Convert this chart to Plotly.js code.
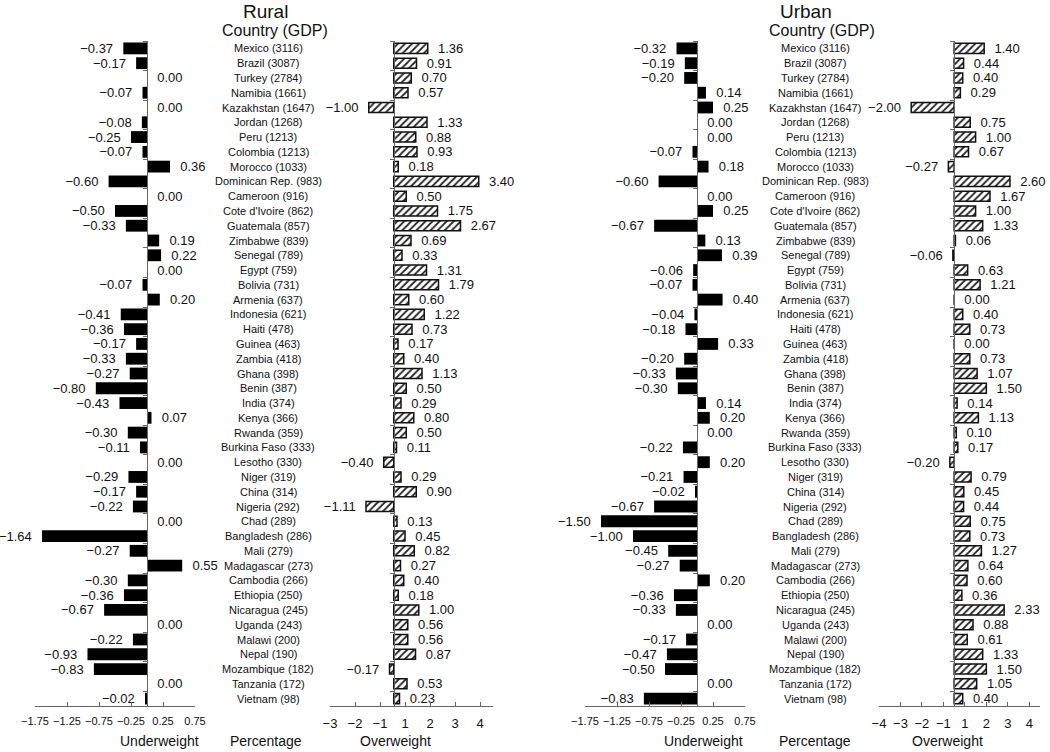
<!DOCTYPE html>
<html>
<head>
<meta charset="utf-8">
<script src="https://cdn.plot.ly/plotly-3.0.1.min.js"></script>
<style>html,body{margin:0;padding:0;background:#fff;}#chart{width:1050px;height:752px;}</style>
</head>
<body>
<div id="chart"></div>
<script>
const countries = ["Mexico (3116)","Brazil (3087)","Turkey (2784)","Namibia (1661)","Kazakhstan (1647)","Jordan (1268)","Peru (1213)","Colombia (1213)","Morocco (1033)","Dominican Rep. (983)","Cameroon (916)","Cote d'Ivoire (862)","Guatemala (857)","Zimbabwe (839)","Senegal (789)","Egypt (759)","Bolivia (731)","Armenia (637)","Indonesia (621)","Haiti (478)","Guinea (463)","Zambia (418)","Ghana (398)","Benin (387)","India (374)","Kenya (366)","Rwanda (359)","Burkina Faso (333)","Lesotho (330)","Niger (319)","China (314)","Nigeria (292)","Chad (289)","Bangladesh (286)","Mali (279)","Madagascar (273)","Cambodia (266)","Ethiopia (250)","Nicaragua (245)","Uganda (243)","Malawi (200)","Nepal (190)","Mozambique (182)","Tanzania (172)","Vietnam (98)"];

const ruralUnderweight = [-0.37,-0.17,0.00,-0.07,0.00,-0.08,-0.25,-0.07,0.36,-0.60,0.00,-0.50,-0.33,0.19,0.22,0.00,-0.07,0.20,-0.41,-0.36,-0.17,-0.33,-0.27,-0.80,-0.43,0.07,-0.30,-0.11,0.00,-0.29,-0.17,-0.22,0.00,-1.64,-0.27,0.55,-0.30,-0.36,-0.67,0.00,-0.22,-0.93,-0.83,0.00,-0.02];
const ruralOverweight = [1.36,0.91,0.70,0.57,-1.00,1.33,0.88,0.93,0.18,3.40,0.50,1.75,2.67,0.69,0.33,1.31,1.79,0.60,1.22,0.73,0.17,0.40,1.13,0.50,0.29,0.80,0.50,0.11,-0.40,0.29,0.90,-1.11,0.13,0.45,0.82,0.27,0.40,0.18,1.00,0.56,0.56,0.87,-0.17,0.53,0.23];
const urbanUnderweight = [-0.32,-0.19,-0.20,0.14,0.25,0.00,0.00,-0.07,0.18,-0.60,0.00,0.25,-0.67,0.13,0.39,-0.06,-0.07,0.40,-0.04,-0.18,0.33,-0.20,-0.33,-0.30,0.14,0.20,0.00,-0.22,0.20,-0.21,-0.02,-0.67,-1.50,-1.00,-0.45,-0.27,0.20,-0.36,-0.33,0.00,-0.17,-0.47,-0.50,0.00,-0.83];
const urbanOverweight = [1.40,0.44,0.40,0.29,-2.00,0.75,1.00,0.67,-0.27,2.60,1.67,1.00,1.33,0.06,-0.06,0.63,1.21,0.00,0.40,0.73,0.00,0.73,1.07,1.50,0.14,1.13,0.10,0.17,-0.20,0.79,0.45,0.44,0.75,0.73,1.27,0.64,0.60,0.36,2.33,0.88,0.61,1.33,1.50,1.05,0.40];

const underTickVals = [-1.75,-1.25,-0.75,-0.25,0.25,0.75];
const underTickText = ["\u22121.75","\u22121.25","\u22120.75","\u22120.25","0.25","0.75"];
const ruralOverTickVals = [-2.55,-1.55,-0.55,0.45,1.45,2.45,3.45];
const ruralOverTickText = ["\u22123","\u22122","\u22121","1","2","3","4"];
const urbanOverTickVals = [-3.5,-2.5,-1.5,-0.5,0.5,1.5,2.5,3.5];
const urbanOverTickText = ["\u22124","\u22123","\u22122","\u22121","1","2","3","4"];

const W = 1050, H = 752;
const M = {l:0, r:0, t:41, b:46};
const fx = p => (p - M.l) / (W - M.l - M.r);
const fy = p => (H - M.b - p) / (H - M.t - M.b);
const FONT = "Liberation Sans, Arial, Helvetica, sans-serif";
const AX = "#666";
const PAD = '\u00a0\u00a0';

function fmt(v){
  const s = v.toFixed(2).replace('-', '\u2212');
  return v < 0 ? s + PAD : PAD + s;
}

const panels = [
  {vals: ruralUnderweight, px:[35,195], range:[-1.75,0.75], tv:underTickVals, tt:underTickText, kind:'under', tfs:11},
  {vals: ruralOverweight, px:[330,493], range:[-2.55,3.97], tv:ruralOverTickVals, tt:ruralOverTickText, kind:'over', tfs:13},
  {vals: urbanUnderweight, px:[585,745], range:[-1.75,0.75], tv:underTickVals, tt:underTickText, kind:'under', tfs:11},
  {vals: urbanOverweight, px:[879,1040], range:[-3.5,4.0], tv:urbanOverTickVals, tt:urbanOverTickText, kind:'over', tfs:13}
];

const data = [];
const layout = {
  width: W, height: H, margin: M,
  paper_bgcolor: '#fff', plot_bgcolor: 'rgba(0,0,0,0)',
  showlegend: false,
  font: {family: FONT, color: '#111', size: 12},
  annotations: []
};

panels.forEach((p, k) => {
  const xa = k === 0 ? 'x' : 'x' + (k+1);
  const ya = k === 0 ? 'y' : 'y' + (k+1);
  const trace = {
    type: 'bar', orientation: 'h',
    x: p.vals, y: countries,
    xaxis: xa, yaxis: ya,
    text: p.vals.map(fmt),
    textposition: 'outside',
    textfont: {family: FONT, size: 13, color: '#111'},
    constraintext: 'none',
    cliponaxis: false,
    hoverinfo: 'x+y'
  };
  if (p.kind === 'under') {
    trace.width = 0.8;
    trace.marker = {color: '#000', line: {width: 0}};
  } else {
    trace.width = 0.68;
    trace.marker = {color: '#fff', line: {color: '#111', width: 1.5},
      pattern: {shape: '/', fgcolor: '#222', bgcolor: '#fff', size: 5, solidity: 0.35}};
  }
  data.push(trace);

  const d0 = fx(p.px[0]), d1 = fx(p.px[1]);
  const zeroPos = d0 + (0 - p.range[0]) / (p.range[1] - p.range[0]) * (d1 - d0);
  layout[k === 0 ? 'xaxis' : 'xaxis' + (k+1)] = {
    domain: [d0, d1], range: p.range, anchor: ya,
    tickmode: 'array', tickvals: p.tv, ticktext: p.tt,
    ticks: 'inside', ticklen: 4, tickcolor: AX, tickwidth: 1,
    ticklabelstandoff: 5,
    showline: true, linecolor: AX, linewidth: 1,
    showgrid: false, zeroline: false,
    tickfont: {family: FONT, size: p.tfs, color: '#111'},
    fixedrange: true
  };
  layout[k === 0 ? 'yaxis' : 'yaxis' + (k+1)] = {
    type: 'category', categoryorder: 'array', categoryarray: countries,
    range: [countries.length - 0.5, -0.5], autorange: false,
    domain: [0, 1], anchor: 'free', position: zeroPos,
    showline: true, linecolor: AX, linewidth: 1,
    ticks: 'outside', ticklen: 4, tickcolor: AX, tickson: 'boundaries',
    showticklabels: false, showgrid: false, zeroline: false,
    fixedrange: true
  };
});

// country labels
const labelCenters = [{x:268, ya:'y'}, {x:815, ya:'y3'}];
labelCenters.forEach(lc => {
  countries.forEach((c, i) => {
    layout.annotations.push({
      text: c, xref: 'paper', yref: lc.ya, x: fx(lc.x), y: i,
      xanchor: 'center', yanchor: 'middle', showarrow: false,
      font: {family: FONT, size: 11, color: '#111'}
    });
  });
});

const titles = [
  {t:'Rural', x:265, y:12, s:19},
  {t:'Country (GDP)', x:275, y:31, s:16},
  {t:'Urban', x:806, y:12, s:19},
  {t:'Country (GDP)', x:822, y:31, s:16},
  {t:'Underweight', x:159, y:741, s:14},
  {t:'Percentage', x:266, y:741, s:14},
  {t:'Overweight', x:395, y:741, s:14},
  {t:'Underweight', x:703, y:741, s:14},
  {t:'Percentage', x:815, y:741, s:14},
  {t:'Overweight', x:948, y:741, s:14}
];
titles.forEach(o => {
  layout.annotations.push({
    text: o.t, xref: 'paper', yref: 'paper', x: fx(o.x), y: fy(o.y),
    xanchor: 'center', yanchor: 'middle', showarrow: false,
    font: {family: FONT, size: o.s, color: '#111'}
  });
});

Plotly.newPlot('chart', data, layout, {displayModeBar: false, responsive: false});
</script>
</body>
</html>
